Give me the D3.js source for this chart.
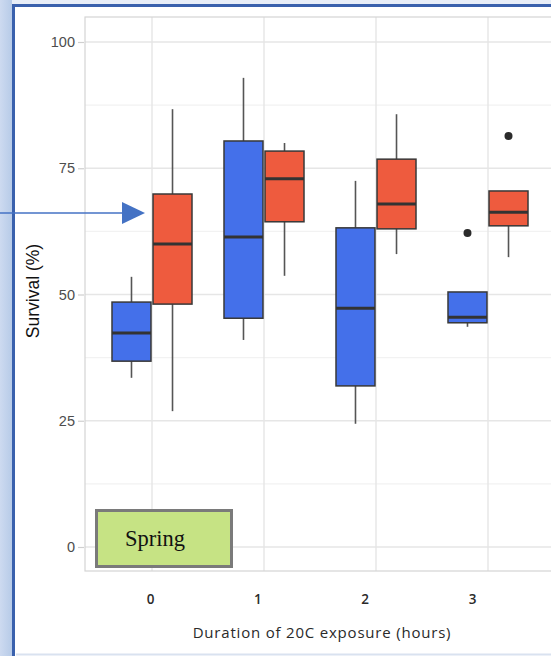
<!DOCTYPE html>
<html>
<head>
<meta charset="utf-8">
<script src="https://cdn.jsdelivr.net/npm/d3@7"></script>
<style>
  html, body { margin: 0; padding: 0; background: #fff; }
  svg { display: block; }
</style>
</head>
<body>
<svg id="chart" width="551" height="656"></svg>
<script>
// Exposure durations (hours) on the x axis
const categories = ["0", "1", "2", "3"];
const seriesKeys = ["blue", "red"];
const yTicks = [0, 25, 50, 75, 100];

// Box statistics per duration, first series (blue)
const blueLow    = [33.5, 41.0, 24.4, 43.6];
const blueQ1     = [36.8, 45.3, 31.9, 44.4];
const blueMedian = [42.4, 61.4, 47.3, 45.5];
const blueQ3     = [48.5, 80.4, 63.2, 50.5];
const blueHigh   = [53.5, 92.9, 72.5, 50.5];
const blueOut    = [[], [], [], [62.2]];

// Box statistics per duration, second series (red)
const redLow    = [26.9, 53.7, 58.0, 57.4];
const redQ1     = [48.1, 64.4, 63.0, 63.6];
const redMedian = [60.0, 72.9, 67.9, 66.3];
const redQ3     = [69.9, 78.4, 76.8, 70.5];
const redHigh   = [86.7, 80.0, 85.7, 70.5];
const redOut    = [[], [], [], [81.4]];

const colors = { blue: "#4470ea", red: "#ee5b3e" };

const stats = {
  blue: categories.map((c, i) => ({ cat: c, key: "blue", low: blueLow[i], q1: blueQ1[i], med: blueMedian[i], q3: blueQ3[i], high: blueHigh[i], out: blueOut[i] })),
  red:  categories.map((c, i) => ({ cat: c, key: "red",  low: redLow[i],  q1: redQ1[i],  med: redMedian[i],  q3: redQ3[i],  high: redHigh[i],  out: redOut[i] }))
};
const boxes = seriesKeys.flatMap(k => stats[k]);

const svg = d3.select("#chart");
const W = 551, H = 656;

// ---- slide frame ----
const defs = svg.append("defs");
const grad = defs.append("linearGradient").attr("id", "strip").attr("x1", 0).attr("x2", 1);
grad.append("stop").attr("offset", 0).attr("stop-color", "#cddaf0");
grad.append("stop").attr("offset", 1).attr("stop-color", "#b7cbe8");
svg.append("rect").attr("x", 0).attr("y", 0).attr("width", W).attr("height", 5).attr("fill", "#e8eef8");
svg.append("rect").attr("x", 0).attr("y", 0).attr("width", 12).attr("height", H).attr("fill", "url(#strip)");
svg.append("rect").attr("x", 16).attr("y", 8).attr("width", W - 16).attr("height", H - 8).attr("fill", "#fff");
svg.append("line").attr("x1", 16).attr("x2", W).attr("y1", 654.5).attr("y2", 654.5)
  .attr("stroke", "#d9e2f0").attr("stroke-width", 2);
svg.append("path").attr("d", `M13.5,${H} V5.5 H${W}`).attr("fill", "none")
  .attr("stroke", "#3a61ad").attr("stroke-width", 3);

// ---- panel geometry ----
const panel = { left: 85, top: 17, right: 560, bottom: 571 };

const x = d3.scaleBand().domain(categories).range([96, 544]).paddingInner(0).paddingOuter(0);
const xSub = d3.scaleBand().domain(seriesKeys).range([0, 80]).paddingInner(0.05);
const xLabel = d3.scalePoint().domain(categories).range([150, 472]);
const y = d3.scaleLinear().domain([0, 100]).range([547, 42]);

const cx = c => x(c) + x.bandwidth() / 2;
const boxLeft = d => cx(d.cat) - 40 + xSub(d.key);
const boxMid = d => boxLeft(d) + xSub.bandwidth() / 2;

const g = svg.append("g");
g.append("rect").attr("x", panel.left).attr("y", panel.top)
  .attr("width", panel.right - panel.left).attr("height", panel.bottom - panel.top).attr("fill", "#fff");

// minor grid
const minor = [12.5, 37.5, 62.5, 87.5];
g.selectAll(".minor").data(minor).join("line")
  .attr("x1", panel.left).attr("x2", panel.right)
  .attr("y1", d => y(d)).attr("y2", d => y(d))
  .attr("stroke", "#f2f2f2").attr("stroke-width", 1.2);
// major grid
g.selectAll(".hmajor").data(yTicks).join("line")
  .attr("x1", panel.left).attr("x2", panel.right)
  .attr("y1", d => y(d)).attr("y2", d => y(d))
  .attr("stroke", "#e6e6e6").attr("stroke-width", 1.4);
g.selectAll(".vmajor").data(categories).join("line")
  .attr("x1", d => cx(d)).attr("x2", d => cx(d))
  .attr("y1", panel.top).attr("y2", panel.bottom)
  .attr("stroke", "#e6e6e6").attr("stroke-width", 1.4);
g.append("rect").attr("x", panel.left).attr("y", panel.top)
  .attr("width", panel.right - panel.left).attr("height", panel.bottom - panel.top)
  .attr("fill", "none").attr("stroke", "#d4d4d4").attr("stroke-width", 1.2);

// ---- boxplots ----
const bx = g.append("g");
bx.selectAll(".whisk").data(boxes).join("g").each(function(d) {
  const s = d3.select(this);
  s.append("line").attr("x1", boxMid(d)).attr("x2", boxMid(d))
    .attr("y1", y(d.high)).attr("y2", y(d.q3)).attr("stroke", "#555").attr("stroke-width", 1.6);
  s.append("line").attr("x1", boxMid(d)).attr("x2", boxMid(d))
    .attr("y1", y(d.q1)).attr("y2", y(d.low)).attr("stroke", "#555").attr("stroke-width", 1.6);
});
bx.selectAll(".box").data(boxes).join("rect")
  .attr("x", d => boxLeft(d)).attr("width", xSub.bandwidth())
  .attr("y", d => y(d.q3)).attr("height", d => y(d.q1) - y(d.q3))
  .attr("fill", d => colors[d.key]).attr("stroke", "#383838").attr("stroke-width", 1.5);
bx.selectAll(".med").data(boxes).join("line")
  .attr("x1", d => boxLeft(d)).attr("x2", d => boxLeft(d) + xSub.bandwidth())
  .attr("y1", d => y(d.med)).attr("y2", d => y(d.med))
  .attr("stroke", "#333").attr("stroke-width", 3);
bx.selectAll(".out").data(boxes.flatMap(d => d.out.map(v => ({ ...d, v })))).join("circle")
  .attr("cx", d => boxMid(d)).attr("cy", d => y(d.v)).attr("r", 4).attr("fill", "#2b2b2b");

// ---- axes ----
const yAxis = d3.axisLeft(y).tickValues(yTicks).tickSize(6).tickPadding(3);
const ya = svg.append("g").attr("transform", `translate(${panel.left - 1},0)`).call(yAxis);
ya.select(".domain").remove();
ya.selectAll(".tick line").attr("stroke", "#cfcfcf").attr("stroke-width", 1.2);
ya.selectAll(".tick text").attr("fill", "#4d4d4d").attr("font-family", "Liberation Sans, Arial, sans-serif")
  .attr("font-size", 14.5);

const xAxis = d3.axisBottom(xLabel).tickSize(0).tickPadding(0);
const xa = svg.append("g").attr("transform", `translate(0,594)`).call(xAxis);
xa.select(".domain").remove();
xa.selectAll(".tick text").attr("fill", "#2a2a2a").attr("font-family", "Open Sans, sans-serif")
  .attr("font-weight", 600).attr("font-size", 13.5);

svg.append("text").attr("x", 322).attr("y", 637.5).attr("text-anchor", "middle")
  .attr("font-family", "Open Sans, sans-serif").attr("font-size", 15).attr("font-weight", 500)
  .attr("letter-spacing", 0.8).attr("fill", "#2a2a2a")
  .text("Duration of 20C exposure (hours)");
svg.append("text").attr("transform", "translate(39,291) rotate(-90)").attr("text-anchor", "middle")
  .attr("font-family", "Liberation Sans, Arial, sans-serif").attr("font-size", 17.5).attr("fill", "#111")
  .text("Survival (%)");

// ---- season label ----
svg.append("rect").attr("x", 96.5).attr("y", 510.5).attr("width", 135).attr("height", 56)
  .attr("fill", "#c6e384").attr("stroke", "#7a7a7a").attr("stroke-width", 3);
svg.append("text").attr("x", 125).attr("y", 546)
  .attr("font-family", "Liberation Serif, Times New Roman, serif").attr("font-size", 22.5).attr("fill", "#111")
  .text("Spring");

// ---- pointer arrow ----
svg.append("line").attr("x1", 0).attr("x2", 124).attr("y1", 213).attr("y2", 213)
  .attr("stroke", "#4472c4").attr("stroke-width", 1.5);
svg.append("path").attr("d", "M122,202 L145,213 L122,224 Z").attr("fill", "#4472c4");
</script>
</body>
</html>
